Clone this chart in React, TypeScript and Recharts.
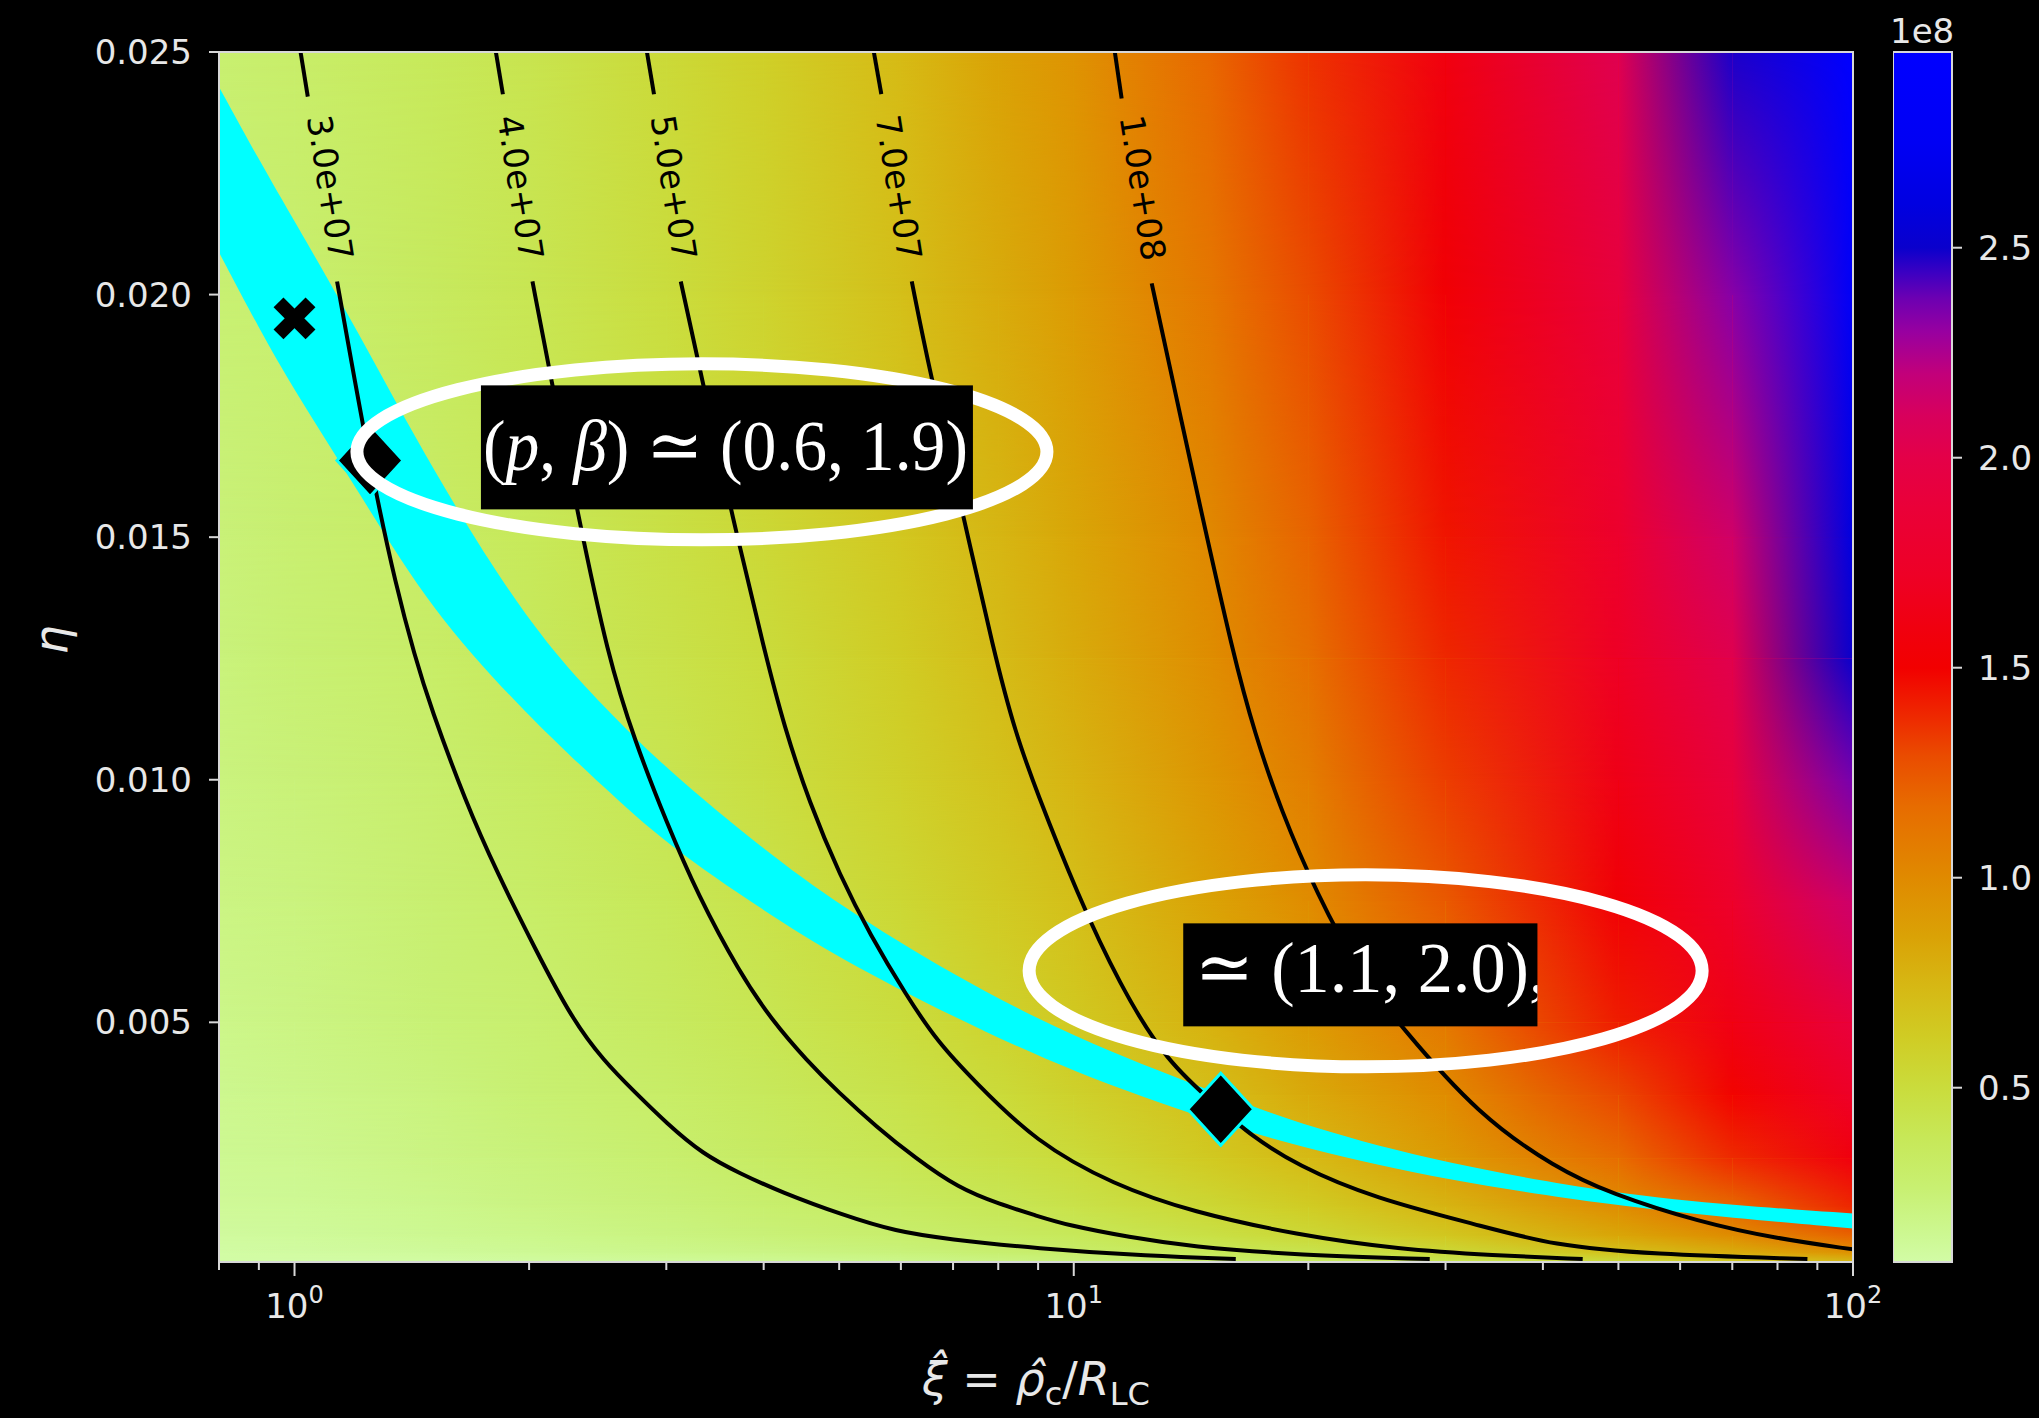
import React from 'react';
import { ComposedChart, XAxis, YAxis, Line, Area, Scatter, ReferenceArea } from 'recharts';

const PAGE_W = 2039;
const PAGE_H = 1418;

// ---------- axes ----------
const X_DOMAIN = [0.8, 100];
const Y_DOMAIN = [0.00006, 0.025];
const X_TICKS = [0.8, 0.9, 1, 2, 3, 4, 5, 6, 7, 8, 9, 10, 20, 30, 40, 50, 60, 70, 80, 90, 100];
const X_DECADES = [1, 10, 100];
const X_DECADE_EXPONENTS = ['0', '1', '2'];
const Y_TICKS = [0.005, 0.01, 0.015, 0.02, 0.025];

// ---------- colour scale (values in units of 1e8) ----------
const CBAR_DOMAIN = [0.085, 2.966];
const CBAR_TICKS = [0.5, 1.0, 1.5, 2.0, 2.5];
const CMAP_VALUES = [0.085, 0.15, 0.26, 0.38, 0.5, 0.62, 0.74, 0.86, 1.0, 1.17, 1.29, 1.38, 1.5, 1.6, 1.72, 1.88, 2.0, 2.1, 2.2, 2.3, 2.38, 2.44, 2.5, 2.6, 2.75, 2.966];
const CMAP_COLORS = ['#d2fca6', '#cdf892', '#c8f072', '#c7e858', '#cadc3c', '#d0cc24', '#d6b814', '#daa206', '#e08a00', '#e76c00', '#ea4c00', '#ee2a00', '#f20000', '#f00010', '#ee0026', '#ea0038', '#e40048', '#d8005c', '#c2007a', '#9800a0', '#6c00b2', '#3c00c2', '#0a00cc', '#0000e0', '#0000f4', '#0000ff'];

// ---------- background field (1e8 units) on a xi × eta grid ----------
const HEAT_XI = [0.8, 1, 1.5, 2, 3, 4, 6, 8, 10, 15, 20, 30, 50, 70, 100];
const HEAT_ETA = [0.025, 0.02, 0.015, 0.0125, 0.01, 0.0075, 0.005, 0.0035, 0.0022, 0.0012, 0.0006, 0.00025, 0.00006];
const HEAT_ETA_0250 = [0.27, 0.30, 0.37, 0.42, 0.52, 0.60, 0.73, 0.86, 0.95, 1.19, 1.36, 1.60, 2.04, 2.48, 2.95];
const HEAT_ETA_0200 = [0.26, 0.28, 0.35, 0.40, 0.49, 0.57, 0.70, 0.81, 0.90, 1.11, 1.29, 1.53, 1.92, 2.33, 2.80];
const HEAT_ETA_0150 = [0.24, 0.27, 0.32, 0.37, 0.46, 0.53, 0.65, 0.75, 0.84, 1.01, 1.20, 1.44, 1.78, 2.14, 2.60];
const HEAT_ETA_0125 = [0.23, 0.26, 0.31, 0.36, 0.44, 0.50, 0.62, 0.72, 0.81, 0.98, 1.15, 1.39, 1.72, 2.03, 2.50];
const HEAT_ETA_0100 = [0.22, 0.24, 0.29, 0.34, 0.41, 0.48, 0.59, 0.68, 0.76, 0.93, 1.07, 1.33, 1.64, 1.92, 2.36];
const HEAT_ETA_0075 = [0.20, 0.22, 0.27, 0.31, 0.38, 0.44, 0.54, 0.63, 0.70, 0.86, 0.99, 1.24, 1.54, 1.77, 2.15];
const HEAT_ETA_0050 = [0.18, 0.20, 0.25, 0.28, 0.35, 0.40, 0.49, 0.57, 0.64, 0.78, 0.90, 1.10, 1.42, 1.63, 1.92];
const HEAT_ETA_0035 = [0.16, 0.18, 0.22, 0.26, 0.31, 0.36, 0.44, 0.51, 0.58, 0.70, 0.82, 0.99, 1.30, 1.49, 1.74];
const HEAT_ETA_0022 = [0.15, 0.16, 0.20, 0.23, 0.28, 0.33, 0.40, 0.46, 0.51, 0.64, 0.73, 0.90, 1.17, 1.38, 1.59];
const HEAT_ETA_0012 = [0.13, 0.14, 0.17, 0.20, 0.24, 0.28, 0.34, 0.39, 0.44, 0.54, 0.62, 0.76, 0.98, 1.18, 1.39];
const HEAT_ETA_0006 = [0.11, 0.12, 0.15, 0.17, 0.21, 0.24, 0.29, 0.33, 0.37, 0.46, 0.53, 0.65, 0.84, 0.98, 1.20];
const HEAT_ETA_00025 = [0.09, 0.10, 0.12, 0.14, 0.17, 0.19, 0.23, 0.27, 0.30, 0.37, 0.42, 0.52, 0.68, 0.80, 0.95];
const HEAT_ETA_00006 = [0.07, 0.07, 0.09, 0.10, 0.12, 0.14, 0.17, 0.20, 0.23, 0.28, 0.32, 0.39, 0.50, 0.60, 0.72];
const HEAT_ROWS = [
  HEAT_ETA_0250, HEAT_ETA_0200, HEAT_ETA_0150, HEAT_ETA_0125, HEAT_ETA_0100, HEAT_ETA_0075,
  HEAT_ETA_0050, HEAT_ETA_0035, HEAT_ETA_0022, HEAT_ETA_0012, HEAT_ETA_0006, HEAT_ETA_00025, HEAT_ETA_00006,
];

// ---------- cyan band ----------
const BAND_XI = [0.8, 0.9, 1, 1.2, 1.5, 2, 2.5, 3, 4, 5, 7, 10, 15, 20, 30, 50, 70, 100];
const BAND_UPPER = [0.02428, 0.02278, 0.02151, 0.01931, 0.01640, 0.01317, 0.01148, 0.01022, 0.00856, 0.00742, 0.00597, 0.00468, 0.00358, 0.00284, 0.00208, 0.00146, 0.00123, 0.00106];
const BAND_LOWER = [0.02087, 0.01931, 0.01802, 0.01602, 0.01346, 0.01129, 0.00983, 0.00867, 0.00730, 0.00632, 0.00511, 0.00396, 0.00297, 0.00238, 0.00174, 0.00121, 0.00097, 0.00075];

// ---------- contour lines [xi, eta]; each level is split where its label sits ----------
const CONTOUR_LEVELS = [3e7, 4e7, 5e7, 7e7, 1e8];
const C3E7_TOP = [[1.018, 0.025], [1.040, 0.02408]];
const C3E7_BOTTOM = [[1.134, 0.02027], [1.199, 0.01809], [1.267, 0.01603], [1.348, 0.01403], [1.427, 0.01254], [1.494, 0.01151], [1.660, 0.00952], [1.819, 0.00809], [2.038, 0.00650], [2.270, 0.00507], [2.495, 0.00420], [2.734, 0.00356], [3.002, 0.00292], [3.343, 0.00228], [3.724, 0.00189], [4.209, 0.00150], [5.069, 0.00102], [5.910, 0.00069], [6.892, 0.00053], [8.938, 0.00034], [12.52, 0.00018], [16.14, 0.00012]];
const C4E7_TOP = [[1.813, 0.025], [1.851, 0.02413]];
const C4E7_BOTTOM = [[2.020, 0.02027], [2.126, 0.01840], [2.311, 0.01547], [2.524, 0.01254], [2.734, 0.01079], [3.002, 0.00912], [3.294, 0.00762], [3.724, 0.00603], [4.086, 0.00507], [4.551, 0.00420], [4.988, 0.00356], [5.589, 0.00284], [6.252, 0.00221], [7.114, 0.00158], [8.037, 0.00125], [8.938, 0.00102], [9.796, 0.00082], [11.80, 0.00057], [14.09, 0.00038], [19.50, 0.00020], [28.63, 0.00012]];
const C5E7_TOP = [[2.833, 0.025], [2.893, 0.02413]];
const C5E7_BOTTOM = [[3.131, 0.02027], [3.343, 0.01817], [3.641, 0.01547], [4.026, 0.01254], [4.246, 0.01112], [4.579, 0.00952], [5.016, 0.00801], [5.475, 0.00681], [6.100, 0.00555], [6.691, 0.00459], [7.441, 0.00380], [8.938, 0.00253], [11.25, 0.00165], [14.19, 0.00109], [19.33, 0.00062], [26.20, 0.00032], [34.50, 0.00020], [44.99, 0.00012]];
const C7E7_TOP = [[5.539, 0.025], [5.663, 0.02413]];
const C7E7_BOTTOM = [[6.196, 0.02027], [6.536, 0.01840], [7.121, 0.01586], [7.920, 0.01254], [8.421, 0.01096], [8.938, 0.00980], [10.12, 0.00762], [11.45, 0.00578], [13.12, 0.00420], [15.44, 0.00321], [16.82, 0.00269], [19.33, 0.00205], [24.33, 0.00137], [33.08, 0.00082], [41.28, 0.00040], [54.82, 0.00022], [87.40, 0.00012]];
const C1E8_TOP = [[11.29, 0.025], [11.52, 0.02404]];
const C1E8_BOTTOM = [[12.59, 0.02023], [13.56, 0.01784], [14.42, 0.01586], [16.04, 0.01254], [17.07, 0.01096], [18.44, 0.00937], [20.55, 0.00762], [23.21, 0.00603], [26.28, 0.00492], [33.08, 0.00308], [41.65, 0.00199], [48.71, 0.00148], [63.55, 0.00088], [80.00, 0.00054], [100, 0.00032]];
const CONTOUR_SEGMENTS = [C3E7_TOP, C3E7_BOTTOM, C4E7_TOP, C4E7_BOTTOM, C5E7_TOP, C5E7_BOTTOM, C7E7_TOP, C7E7_BOTTOM, C1E8_TOP, C1E8_BOTTOM];

// contour label anchors
const LABEL_XI = [1.111, 1.950, 3.067, 5.963, 12.26];
const LABEL_ETA = [0.0222, 0.0222, 0.0222, 0.0222, 0.0222];

// ---------- markers ----------
const MARKER_XI = [1.0, 1.25, 15.44];
const MARKER_ETA = [0.01951, 0.01658, 0.00321];
const MARKER_KIND = ['x', 'diamond', 'diamond'];

// ---------- highlighted parameter annotations ----------
const ANNOTATION_XI = [3.333, 23.69];
const ANNOTATION_ETA = [0.016758, 0.006061];

// pixel geometry of each annotation around its anchor
const ANNOTATION_LAYOUT = [
  { rx: 345, ry: 88, boxX: -221, boxY: -66.5, boxW: 492, boxH: 124, textX: -219, textY: 18.5, textLen: 485 },
  { rx: 336.5, ry: 96, boxX: -182.4, boxY: -47.5, boxW: 354.2, boxH: 103, textX: -171, textY: 21, textLen: 352 },
];

const TEXT_LIGHT = '#e8e8e8';
const TICK_LIGHT = '#d8d8d8';

// ---------- helpers ----------
function hexRgb(h: string) {
  const n = parseInt(h.slice(1), 16);
  return [(n >> 16) & 255, (n >> 8) & 255, n & 255];
}

function cmap(v: number) {
  const vs = CMAP_VALUES;
  const cs = CMAP_COLORS;
  if (v <= vs[0]) return cs[0];
  if (v >= vs[vs.length - 1]) return cs[cs.length - 1];
  let i = 0;
  while (v > vs[i + 1]) i++;
  const t = (v - vs[i]) / (vs[i + 1] - vs[i]);
  const a = hexRgb(cs[i]);
  const b = hexRgb(cs[i + 1]);
  const c = a.map((av, k) => Math.round(av + (b[k] - av) * t));
  return `rgb(${c[0]},${c[1]},${c[2]})`;
}

function formatLevel(v: number) {
  const e = Math.floor(Math.log10(v) + 1e-9);
  const m = v / Math.pow(10, e);
  return `${m.toFixed(1)}e+${String(e).padStart(2, '0')}`;
}

const toPoints = (pairs: number[][]) => pairs.map(([xi, eta]) => ({ xi, eta }));

const BAND_DATA = BAND_XI.map((xi, i) => ({ xi, band: [BAND_LOWER[i], BAND_UPPER[i]] }));
const LABEL_DATA = LABEL_XI.map((xi, i) => ({ xi, eta: LABEL_ETA[i], text: formatLevel(CONTOUR_LEVELS[i]) }));
const MARKER_DATA = MARKER_XI.map((xi, i) => ({ xi, eta: MARKER_ETA[i], kind: MARKER_KIND[i] }));
const ANNOTATION_DATA = ANNOTATION_XI.map((xi, i) => ({ xi, eta: ANNOTATION_ETA[i], idx: i }));

// ---------- SVG paint servers shared by both charts ----------
function PaintDefs() {
  const heatGrads: any[] = [];
  HEAT_ROWS.forEach((row, r) => {
    for (let c = 0; c < row.length - 1; c++) {
      heatGrads.push(
        <linearGradient key={`hg-${r}-${c}`} id={`heat-${r}-${c}`} x1="0" y1="0" x2="1" y2="0">
          <stop offset="0" stopColor={cmap(row[c])} />
          <stop offset="1" stopColor={cmap(row[c + 1])} />
        </linearGradient>
      );
    }
  });
  const cbarGrads = CMAP_VALUES.slice(0, -1).map((v, i) => (
    <linearGradient key={`cb-${i}`} id={`cbar-${i}`} x1="0" y1="0" x2="0" y2="1">
      <stop offset="0" stopColor={CMAP_COLORS[i + 1]} />
      <stop offset="1" stopColor={CMAP_COLORS[i]} />
    </linearGradient>
  ));
  return (
    <svg width={0} height={0} style={{ position: 'absolute', left: 0, top: 0 }}>
      <defs>
        {heatGrads}
        {cbarGrads}
        <linearGradient id="fade-down" x1="0" y1="0" x2="0" y2="1">
          <stop offset="0" stopColor="#fff" stopOpacity={1} />
          <stop offset="1" stopColor="#fff" stopOpacity={0} />
        </linearGradient>
        <mask id="fade-mask" maskContentUnits="objectBoundingBox" style={{ maskType: 'alpha' } as any}>
          <rect x="0" y="0" width="1" height="1" fill="url(#fade-down)" />
        </mask>
      </defs>
    </svg>
  );
}

// ---------- shapes ----------
function XTick(props: any) {
  const { x, y, payload } = props;
  const k = X_DECADES.indexOf(payload.value);
  const major = k >= 0;
  return (
    <g>
      <line x1={x} x2={x} y1={y} y2={y + (major ? 14 : 8)} stroke={TICK_LIGHT} strokeWidth={2} />
      {major && (
        <text x={x} y={y + 56} textAnchor="middle" fill={TEXT_LIGHT} fontSize={34} fontFamily="DejaVu Sans">
          10<tspan dy={-15} fontSize={24}>{X_DECADE_EXPONENTS[k]}</tspan>
        </text>
      )}
    </g>
  );
}

function ContourLabel(props: any) {
  const { cx, cy, payload } = props;
  return (
    <text
      x={cx}
      y={cy}
      transform={`rotate(81 ${cx} ${cy})`}
      textAnchor="middle"
      dominantBaseline="central"
      fontSize={34}
      fontFamily="DejaVu Sans"
      fill="#000"
    >
      {payload.text}
    </text>
  );
}

function MarkerShape(props: any) {
  const { cx, cy, payload } = props;
  if (payload.kind === 'x') {
    const a = 16;
    return (
      <g stroke="#000" strokeWidth={14} strokeLinecap="butt">
        <line x1={cx - a} y1={cy - a} x2={cx + a} y2={cy + a} />
        <line x1={cx - a} y1={cy + a} x2={cx + a} y2={cy - a} />
      </g>
    );
  }
  const hw = 33;
  const hh = 36;
  return (
    <polygon
      points={`${cx},${cy - hh} ${cx + hw},${cy} ${cx},${cy + hh} ${cx - hw},${cy}`}
      fill="#000"
      stroke="#00ffff"
      strokeWidth={3}
    />
  );
}

function AnnotationShape(props: any) {
  const { cx, cy, payload } = props;
  const L = ANNOTATION_LAYOUT[payload.idx];
  const clipId = `annotation-clip-${payload.idx}`;
  const font = { fontSize: 72, fontFamily: "'Liberation Serif', 'DejaVu Serif', serif", fill: '#fff' };
  return (
    <g>
      <ellipse cx={cx} cy={cy} rx={L.rx} ry={L.ry} fill="none" stroke="#fff" strokeWidth={13} />
      <defs>
        <clipPath id={clipId}>
          <rect x={cx + L.boxX} y={cy + L.boxY} width={L.boxW} height={L.boxH} />
        </clipPath>
      </defs>
      <rect x={cx + L.boxX} y={cy + L.boxY} width={L.boxW} height={L.boxH} fill="#000" />
      {payload.idx === 0 ? (
        <text x={cx + L.textX} y={cy + L.textY} textLength={L.textLen} lengthAdjust="spacingAndGlyphs" clipPath={`url(#${clipId})`} {...font}>
          (<tspan fontStyle="italic">p</tspan>, <tspan fontStyle="italic">β</tspan>) ≃ (0.6, 1.9)
        </text>
      ) : (
        <text x={cx + L.textX} y={cy + L.textY} textLength={L.textLen} lengthAdjust="spacingAndGlyphs" clipPath={`url(#${clipId})`} {...font}>
          ≃ (1.1, 2.0),
        </text>
      )}
    </g>
  );
}

function rectShape(fill: string, masked: boolean) {
  return (p: any) => (
    <rect
      x={p.x}
      y={p.y}
      width={p.width}
      height={p.height}
      fill={fill}
      mask={masked ? 'url(#fade-mask)' : undefined}
      shapeRendering="crispEdges"
    />
  );
}

// ---------- background field cells (bilinear blend between grid rows) ----------
function buildHeatCells() {
  const cells: any[] = [];
  for (let b = 0; b < HEAT_ETA.length - 1; b++) {
    for (let c = 0; c < HEAT_XI.length - 1; c++) {
      const common = {
        x1: HEAT_XI[c],
        x2: HEAT_XI[c + 1],
        y1: HEAT_ETA[b + 1],
        y2: HEAT_ETA[b],
        ifOverflow: 'visible' as const,
        zIndex: -10,
      };
      cells.push(<ReferenceArea key={`hb-${b}-${c}`} {...common} shape={rectShape(`url(#heat-${b + 1}-${c})`, false)} />);
      cells.push(<ReferenceArea key={`ht-${b}-${c}`} {...common} shape={rectShape(`url(#heat-${b}-${c})`, true)} />);
    }
  }
  return cells;
}

function buildColorbarCells() {
  return CMAP_VALUES.slice(0, -1).map((v, i) => (
    <ReferenceArea
      key={`cbc-${i}`}
      x1={0}
      x2={1}
      y1={v}
      y2={CMAP_VALUES[i + 1]}
      ifOverflow="visible"
      shape={rectShape(`url(#cbar-${i})`, false)}
    />
  ));
}

export default function App() {
  const heatCells = buildHeatCells();
  const contourLines = CONTOUR_SEGMENTS.map((seg, i) => (
    <Line
      key={`contour-${i}`}
      data={toPoints(seg)}
      dataKey="eta"
      type="basis"
      stroke="#000"
      strokeWidth={4}
      dot={false}
      activeDot={false}
      isAnimationActive={false}
      legendType="none"
      zIndex={400}
    />
  ));

  return (
    <div style={{ position: 'absolute', left: 0, top: 0, width: PAGE_W, height: PAGE_H, background: '#000', overflow: 'hidden' }}>
      <PaintDefs />
      <div style={{ position: 'absolute', left: 0, top: 0 }}>
        <ComposedChart width={PAGE_W} height={PAGE_H} margin={{ top: 52, right: 186, bottom: 36, left: 119 }}>
          <XAxis
            type="number"
            dataKey="xi"
            scale="log"
            domain={X_DOMAIN}
            allowDataOverflow
            ticks={X_TICKS}
            interval={0}
            height={120}
            tickLine={false}
            axisLine={false}
            tickSize={0}
            tickMargin={0}
            tick={(p: any) => <XTick {...p} />}
          />
          <YAxis
            type="number"
            domain={Y_DOMAIN}
            allowDataOverflow
            ticks={Y_TICKS}
            interval={0}
            width={100}
            axisLine={false}
            tickLine={{ stroke: TICK_LIGHT, strokeWidth: 2 }}
            tickSize={10}
            tickMargin={17}
            tick={{ fill: TEXT_LIGHT, fontSize: 34, fontFamily: 'DejaVu Sans' }}
            tickFormatter={(v: number) => v.toFixed(3)}
          />
          {heatCells}
          <Area
            data={BAND_DATA}
            dataKey="band"
            type="basis"
            fill="#00ffff"
            fillOpacity={1}
            stroke="none"
            dot={false}
            activeDot={false}
            isAnimationActive={false}
            legendType="none"
            zIndex={100}
          />
          {contourLines}
          <Scatter data={LABEL_DATA} dataKey="eta" shape={(p: any) => <ContourLabel {...p} />} isAnimationActive={false} legendType="none" zIndex={600} />
          <Scatter data={MARKER_DATA} dataKey="eta" shape={(p: any) => <MarkerShape {...p} />} isAnimationActive={false} legendType="none" zIndex={610} />
          <Scatter data={ANNOTATION_DATA} dataKey="eta" shape={(p: any) => <AnnotationShape {...p} />} isAnimationActive={false} legendType="none" zIndex={620} />
          <ReferenceArea
            x1={X_DOMAIN[0]}
            x2={X_DOMAIN[1]}
            y1={Y_DOMAIN[0]}
            y2={Y_DOMAIN[1]}
            ifOverflow="visible"
            zIndex={700}
            shape={(p: any) => <rect x={p.x} y={p.y} width={p.width} height={p.height} fill="none" stroke={TICK_LIGHT} strokeWidth={2} />}
          />
        </ComposedChart>
      </div>

      {/* colour bar */}
      <div style={{ position: 'absolute', left: 1893, top: 0 }}>
        <ComposedChart width={160} height={PAGE_H} margin={{ top: 52, right: 11, bottom: 156, left: 0 }}>
          <XAxis type="number" dataKey="x" domain={[0, 1]} allowDataOverflow hide />
          <YAxis
            type="number"
            orientation="right"
            domain={CBAR_DOMAIN}
            allowDataOverflow
            ticks={CBAR_TICKS}
            interval={0}
            width={90}
            axisLine={false}
            tickLine={{ stroke: TICK_LIGHT, strokeWidth: 2 }}
            tickSize={10}
            tickMargin={16}
            tick={{ fill: TEXT_LIGHT, fontSize: 34, fontFamily: 'DejaVu Sans' }}
            tickFormatter={(v: number) => v.toFixed(1)}
          />
          {buildColorbarCells()}
          <ReferenceArea
            x1={0}
            x2={1}
            y1={CBAR_DOMAIN[0]}
            y2={CBAR_DOMAIN[1]}
            ifOverflow="visible"
            shape={(p: any) => <rect x={p.x} y={p.y} width={p.width} height={p.height} fill="none" stroke={TICK_LIGHT} strokeWidth={2} />}
          />
        </ComposedChart>
      </div>

      {/* axis titles and colour-bar multiplier */}
      <svg width={PAGE_W} height={PAGE_H} style={{ position: 'absolute', left: 0, top: 0, pointerEvents: 'none' }}>
        <text x={1036} y={1395} textAnchor="middle" fontSize={46} fontFamily="DejaVu Sans" fill={TEXT_LIGHT}>
          <tspan fontStyle="italic">{'\u03BE\u0302'}</tspan>
          {' = '}
          <tspan fontStyle="italic">{'\u03C1\u0302'}</tspan>
          <tspan fontSize={32} dy={10}>c</tspan>
          <tspan dy={-10}>/</tspan>
          <tspan fontStyle="italic">R</tspan>
          <tspan fontSize={32} dy={10}>LC</tspan>
        </text>
        <text x={67} y={640} transform="rotate(-90 67 640)" textAnchor="middle" fontSize={46} fontStyle="italic" fontFamily="DejaVu Sans" fill={TEXT_LIGHT}>
          η
        </text>
        <text x={1890} y={43} fontSize={34} fontFamily="DejaVu Sans" fill={TEXT_LIGHT}>
          1e8
        </text>
      </svg>
    </div>
  );
}
